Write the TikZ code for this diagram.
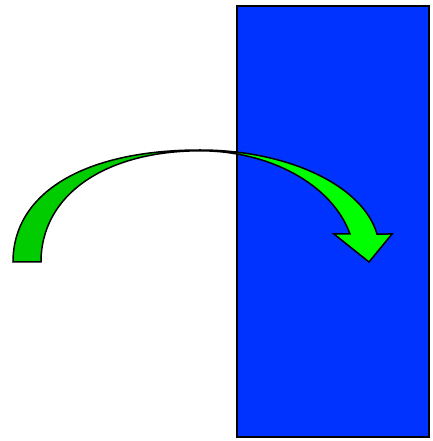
\documentclass[tikz,border=0pt]{standalone}
\definecolor{wallblue}{HTML}{0033FF}
\definecolor{darkgreen}{HTML}{00CC00}
\definecolor{lightgreen}{HTML}{00FF00}
% curved arrow outline, outer edge first
\newcommand{\turnarrow}{(13,179) .. controls (13,248) and (84,291) .. (200,291)
  arc[start angle=90,end angle=9.2,x radius=179.3,y radius=100] -- (392,207) -- (369,179) -- (334,207) -- (350,207)
  arc[start angle=14.5,end angle=90,x radius=155,y radius=111]
  .. controls (105,290) and (41,246) .. (41,179) -- cycle}
\begin{document}
\begin{tikzpicture}[x=1pt,y=1pt]
    \useasboundingbox (0,0) rectangle (432,441);
    \draw [line width=2pt,fill=wallblue] (237,4) rectangle (429,435);
    \fill [darkgreen] \turnarrow;
    \begin{scope}
        \clip (237,0) rectangle (432,441);
        \fill [lightgreen] \turnarrow;
    \end{scope}
    \draw [line width=1.5pt] \turnarrow;
\end{tikzpicture}
\end{document}
